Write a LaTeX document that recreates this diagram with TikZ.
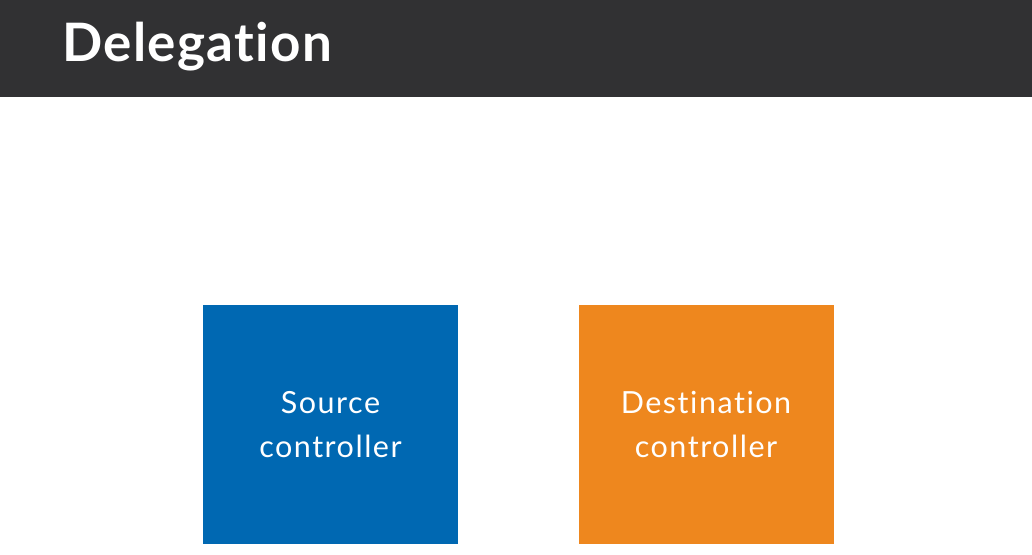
\documentclass[tikz,border=0pt]{standalone}
\usepackage{fontspec}
\setmainfont{Lato}[Ligatures=NoCommon,LetterSpace=5]
\newfontfamily\titlefont{Lato}[UprightFont=* Bold,Ligatures=NoCommon,LetterSpace=2.5]
\definecolor{headerbg}{HTML}{313133}
\definecolor{srcblue}{HTML}{0068B2}
\definecolor{dstorange}{HTML}{EE871E}
\begin{document}
\begin{tikzpicture}[x=1pt,y=1pt,
  ctrlbox/.style={minimum width=255pt,minimum height=239pt,inner sep=0pt,
    text=white,align=center,font=\fontsize{30.5}{44}\selectfont}]
\useasboundingbox (0,0) rectangle (1032,554);
\fill[white] (0,0) rectangle (1032,554);
% title bar
\fill[headerbg] (0,457) rectangle (1032,554);
\node[anchor=base west,inner sep=0pt,text=white,font=\titlefont\fontsize{53}{60}\selectfont]
  (title) at (62,492) {Delegation};
% controller boxes
\node[ctrlbox,fill=srcblue] (src) at (330.5,129.5) {Source\\controller};
\node[ctrlbox,fill=dstorange] (dst) at (706,129.5) {Destination\\controller};
\end{tikzpicture}
\end{document}
